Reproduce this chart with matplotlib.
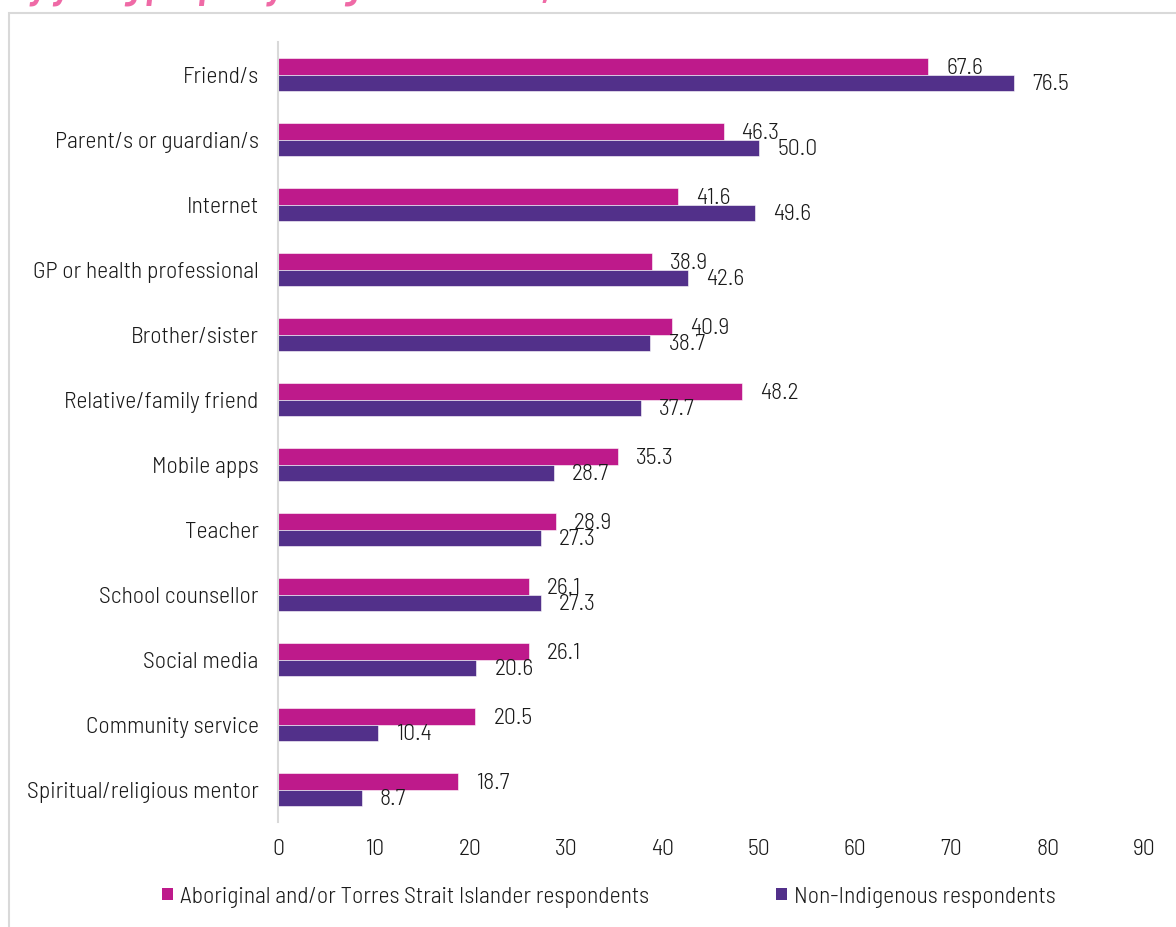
import matplotlib.pyplot as plt
from matplotlib.patches import Rectangle, Patch

# Data
categories = ['Friend/s', 'Parent/s or guardian/s', 'Internet', 'GP or health professional',
              'Brother/sister', 'Relative/family friend', 'Mobile apps', 'Teacher',
              'School counsellor', 'Social media', 'Community service',
              'Spiritual/religious mentor']
aboriginal = [67.6, 46.3, 41.6, 38.9, 40.9, 48.2, 35.3, 28.9, 26.1, 26.1, 20.5, 18.7]
non_indigenous = [76.5, 50.0, 49.6, 42.6, 38.7, 37.7, 28.7, 27.3, 27.3, 20.6, 10.4, 8.7]
series_names = ['Aboriginal and/or Torres Strait Islander respondents',
                'Non-Indigenous respondents']
x_ticks = [0, 10, 20, 30, 40, 50, 60, 70, 80, 90]

pink = '#BE1A8B'
purple = '#52308A'
text_col = '#1A1A1A'
fs = 17

plt.rcParams['font.family'] = ['Barlow Semi Condensed', 'DejaVu Sans']
plt.rcParams['font.weight'] = 300

fig = plt.figure(figsize=(11.76, 9.27), dpi=100)

# light grey frame around the chart area (runs off the right/bottom edge)
fig.patches.append(Rectangle((9 / 1176, -0.1), 1.2, 1.1 - 13 / 927,
                             transform=fig.transFigure, fill=False,
                             edgecolor='#D9D9D9', linewidth=1.5))

# title sits above the crop, only its descenders show
fig.text(12 / 1176, 1 + 1 / 927, 'by young people by Indigenous status, 2021',
         color='#EF6AA6', fontsize=26, fontweight='bold', style='italic',
         va='baseline', ha='left')

ax = fig.add_axes([278 / 1176, 1 - 822 / 927, 866 / 1176, 780 / 927])

ypos = list(range(len(categories)))
h = 0.25
ax.barh([y - h / 2 for y in ypos], aboriginal, height=h, color=pink,
        edgecolor='white', linewidth=0.4)
ax.barh([y + h / 2 for y in ypos], non_indigenous, height=h, color=purple,
        edgecolor='white', linewidth=0.4)

for y, a, n in zip(ypos, aboriginal, non_indigenous):
    ax.annotate(f'{a:.1f}', xy=(a, y - h / 2), xytext=(13, -1.5),
                textcoords='offset points', va='center', ha='left',
                fontsize=fs, color=text_col)
    ax.annotate(f'{n:.1f}', xy=(n, y + h / 2), xytext=(13, -1.5),
                textcoords='offset points', va='center', ha='left',
                fontsize=fs, color=text_col)

ax.set_xlim(0, 90)
ax.set_ylim(len(categories) - 0.5, -0.5)
ax.set_yticks(ypos)
ax.set_yticklabels(categories)
ax.set_xticks(x_ticks)
ax.tick_params(axis='y', length=0, pad=14, labelsize=fs, labelcolor=text_col)
ax.tick_params(axis='x', length=0, pad=12, labelsize=fs, labelcolor=text_col)

for side in ['top', 'right', 'bottom']:
    ax.spines[side].set_visible(False)
ax.spines['left'].set_color('#D9D9D9')
ax.spines['left'].set_linewidth(1.5)

handles = [Patch(facecolor=pink, label=series_names[0]),
           Patch(facecolor=purple, label=series_names[1])]
fig.legend(handles=handles, loc='center', bbox_to_anchor=(609 / 1176, 1 - 897 / 927),
           ncol=2, frameon=False, fontsize=fs, handlelength=0.45, handleheight=0.45,
           handletextpad=0.3, columnspacing=5.4, labelcolor=text_col)

fig.savefig('out.png', dpi=100)
